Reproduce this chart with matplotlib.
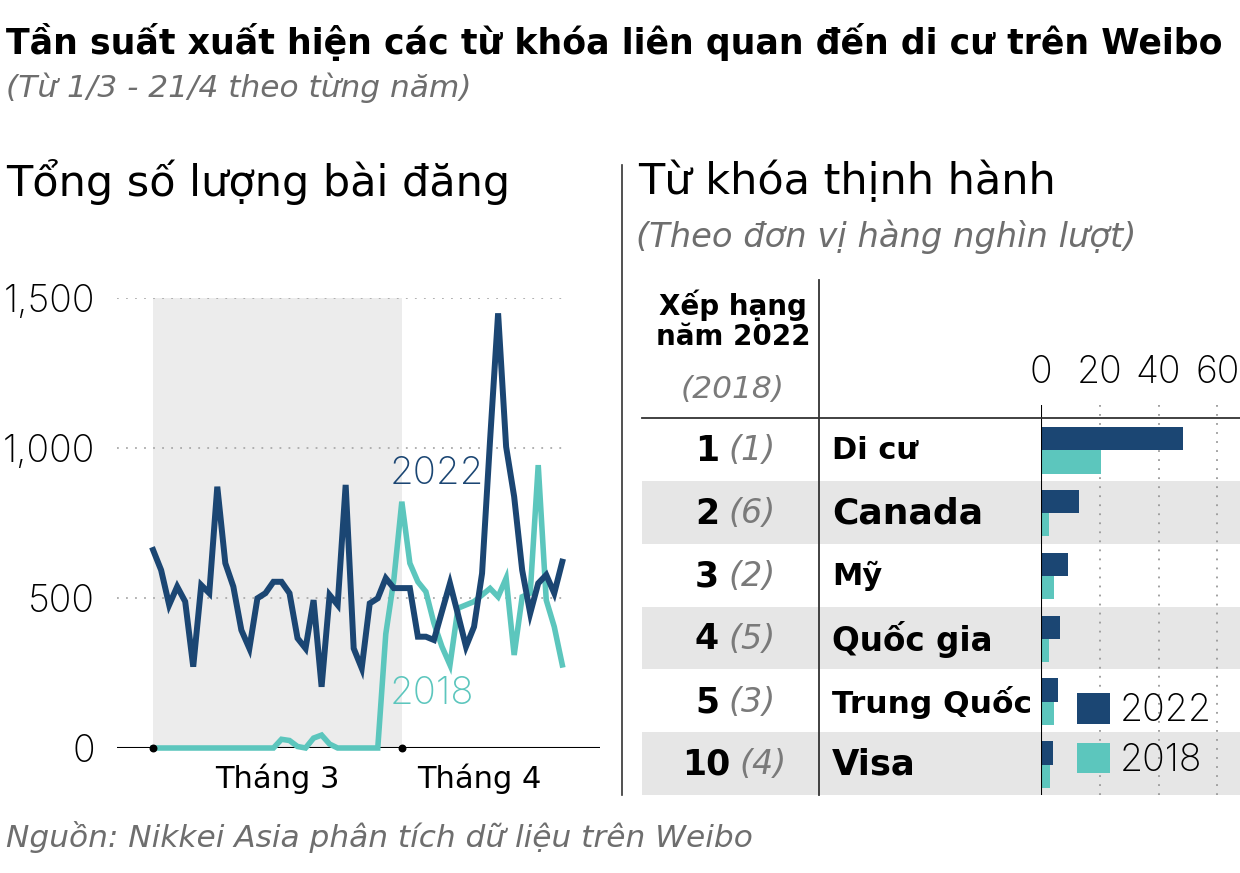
import matplotlib.pyplot as plt

plt.rcParams['font.family'] = ['DejaVu Sans']
NUM = ['Inter', 'DejaVu Sans']  # light digits

# === Data ===
# daily posts, 1/3 -> 21/4 (52 days)
posts_2022 = [660, 593, 477, 538, 488, 271, 543, 516, 871, 616,
              538, 393, 332, 499, 516, 554, 554, 516, 366, 332,
              493, 204, 510, 477, 877, 332, 266, 482, 499, 566,
              533, 533, 533, 371, 371, 360, 455, 549, 445, 338,
              404, 582, 1027, 1449, 1004, 838, 593, 449, 549, 577,
              516, 621]
posts_2018 = [0, 0, 0, 0, 0, 0, 0, 0, 0, 0,
              0, 0, 0, 0, 0, 0, 29, 25, 5, 0,
              33, 43, 13, 0, 0, 0, 0, 0, 0, 380,
              560, 821, 616, 554, 521, 416, 338, 277, 466, 477,
              488, 510, 532, 504, 566, 310, 504, 516, 943, 493,
              404, 277]
days = list(range(len(posts_2022)))
month_ticks = [15.5, 40.7]
month_labels = ["Tháng 3", "Tháng 4"]
month_starts = [0, 31]

rank_2022 = ["1", "2", "3", "4", "5", "10"]
rank_2018 = ["(1)", "(6)", "(2)", "(5)", "(3)", "(4)"]
keywords = ["Di cư", "Canada", "Mỹ", "Quốc gia", "Trung Quốc", "Visa"]
keyword_sizes = [22, 26, 22, 23.5, 22.5, 25.5]
count_2022 = [48.4, 12.8, 9.3, 6.3, 5.9, 4.0]
count_2018 = [20.4, 2.8, 4.5, 2.8, 4.3, 2.9]

navy = "#1b4673"
teal = "#5cc6bd"
grey_txt = "#6e6e6e"
W, H = 1240, 873

fig = plt.figure(figsize=(12.4, 8.73), dpi=100)


def box(x0, y0, x1, y1):
    # pixel box (top-left origin) -> figure fraction rect
    return [x0 / W, 1 - y1 / H, (x1 - x0) / W, (y1 - y0) / H]


def ftext(x, y, s, **kw):
    fig.text(x / W, 1 - y / H, s, **kw)


# === Titles ===
ftext(6, 42, "Tần suất xuất hiện các từ khóa liên quan đến di cư trên Weibo",
      fontsize=25, fontweight="bold", va="center")
ftext(6, 88, "(Từ 1/3 - 21/4 theo từng năm)", fontsize=22.5, style="italic",
      color=grey_txt, va="center")
ftext(6, 182, "Tổng số lượng bài đăng", fontsize=31, va="center")
ftext(638, 182, "Từ khóa thịnh hành", fontsize=31, va="center")
ftext(636, 237, "(Theo đơn vị hàng nghìn lượt)", fontsize=24.3, style="italic",
      color=grey_txt, va="center")
ftext(6, 837, "Nguồn: Nikkei Asia phân tích dữ liệu trên Weibo", fontsize=22.5,
      style="italic", color=grey_txt, va="center")

# separator
fig.add_artist(plt.Line2D([622 / W, 622 / W], [1 - 165 / H, 1 - 795 / H],
                          color="#333333", lw=1.2))

# === Line chart ===
ax = fig.add_axes(box(117, 298, 600, 748))
ax.set_xlim(-4.5, 55.7)
ax.set_ylim(0, 1500)
ax.axvspan(month_starts[0], month_starts[1], color="#ececec", lw=0, zorder=0)
for v in [500, 1000, 1500]:
    ax.plot([-4.5, 51.4], [v, v], ls=(0, (1, 4)), color="#aaaaaa", lw=1.3, zorder=1)
ax.plot(days, posts_2018, color=teal, lw=4, solid_joinstyle="miter", zorder=3, clip_on=False)
ax.plot(days, posts_2022, color=navy, lw=4.3, solid_joinstyle="miter", zorder=4, clip_on=False)
ax.axhline(0, color="black", lw=1.5, zorder=2)
ax.scatter(month_starts, [0, 0], color="black", s=22, zorder=5, clip_on=False)
ax.text(29.5, 915, "2022", color=navy, fontsize=27.5, family=NUM, fontweight="light", va="center")
ax.text(29.5, 180, "2018", color=teal, fontsize=27.5, family=NUM, fontweight="light", va="center")
for s in ax.spines.values():
    s.set_visible(False)
ax.set_yticks([0, 500, 1000, 1500])
ax.set_yticklabels(["0", "500", "1,000", "1,500"], fontsize=27, family=NUM, fontweight="light")
ax.set_xticks(month_ticks)
ax.set_xticklabels(month_labels, fontsize=22)
ax.tick_params(length=0)
ax.tick_params(axis="y", pad=16)
ax.tick_params(axis="x", pad=11)
ax.patch.set_alpha(0)

# === Ranking table ===
tab = fig.add_axes(box(642, 418, 1240, 795))
tab.set_xlim(642, 1240)
tab.set_ylim(len(keywords), 0)
tab.axis("off")
for i in range(len(keywords)):
    if i % 2 == 1:
        tab.axhspan(i, i + 1, color="#e6e6e6", lw=0, zorder=0)
    x_split = 719 + 11 * (len(rank_2022[i]) - 1)
    tab.text(x_split, i + 0.52, rank_2022[i], fontsize=25, fontweight="bold", ha="right", va="center")
    tab.text(x_split + 9, i + 0.52, rank_2018[i], fontsize=24, style="italic", color="#7a7a7a",
             ha="left", va="center")
    tab.text(832, i + 0.52, keywords[i], fontsize=keyword_sizes[i], fontweight="bold",
             ha="left", va="center")

ftext(733, 305, "Xếp hạng", fontsize=20, fontweight="bold", ha="center", va="center")
ftext(733, 337, "năm 2022", fontsize=20, fontweight="bold", ha="center", va="center")
ftext(733, 390, "(2018)", fontsize=22.5, style="italic", color="#7a7a7a",
      ha="center", va="center")
fig.add_artist(plt.Line2D([642 / W, 1.0], [1 - 418 / H, 1 - 418 / H],
                          color="#333333", lw=1.3))
fig.add_artist(plt.Line2D([819 / W, 819 / W], [1 - 280 / H, 1 - 795 / H],
                          color="#333333", lw=1.3))

# === Bars ===
bx = fig.add_axes(box(1041, 405, 1240, 795))
row_px = (795 - 418) / len(keywords)
bx.set_ylim(len(keywords), -13 / row_px)
bx.set_xlim(0, (1240 - 1041) / 2.94)
rows = range(len(keywords))
b22 = bx.barh([r + 0.33 for r in rows], count_2022, height=0.37, color=navy, zorder=3)
b18 = bx.barh([r + 0.70 for r in rows], count_2018, height=0.37, color=teal, zorder=3)
for v in [20, 40, 60]:
    bx.axvline(v, ls=(0, (1, 4)), color="#999999", lw=1.3, zorder=1)
bx.axvline(0, color="black", lw=1.5, zorder=4)
for s in bx.spines.values():
    s.set_visible(False)
bx.set_yticks([])
bx.set_xticks([0, 20, 40, 60])
bx.xaxis.tick_top()
bx.tick_params(length=0, pad=10)
for lab in bx.get_xticklabels():
    lab.set_fontsize(27)
    lab.set_family(NUM)
    lab.set_fontweight("light")
bx.patch.set_alpha(0)

leg = fig.legend([b22, b18], ["2022", "2018"], loc="upper left",
                 bbox_to_anchor=(1077 / W, 1 - 693 / H), bbox_transform=fig.transFigure,
                 frameon=False, prop={"family": NUM, "weight": "light", "size": 27},
                 handlelength=0.88, handleheight=0.88, handletextpad=0.27,
                 labelspacing=0.36, borderpad=0, borderaxespad=0)

fig.savefig("out.png", dpi=100)
